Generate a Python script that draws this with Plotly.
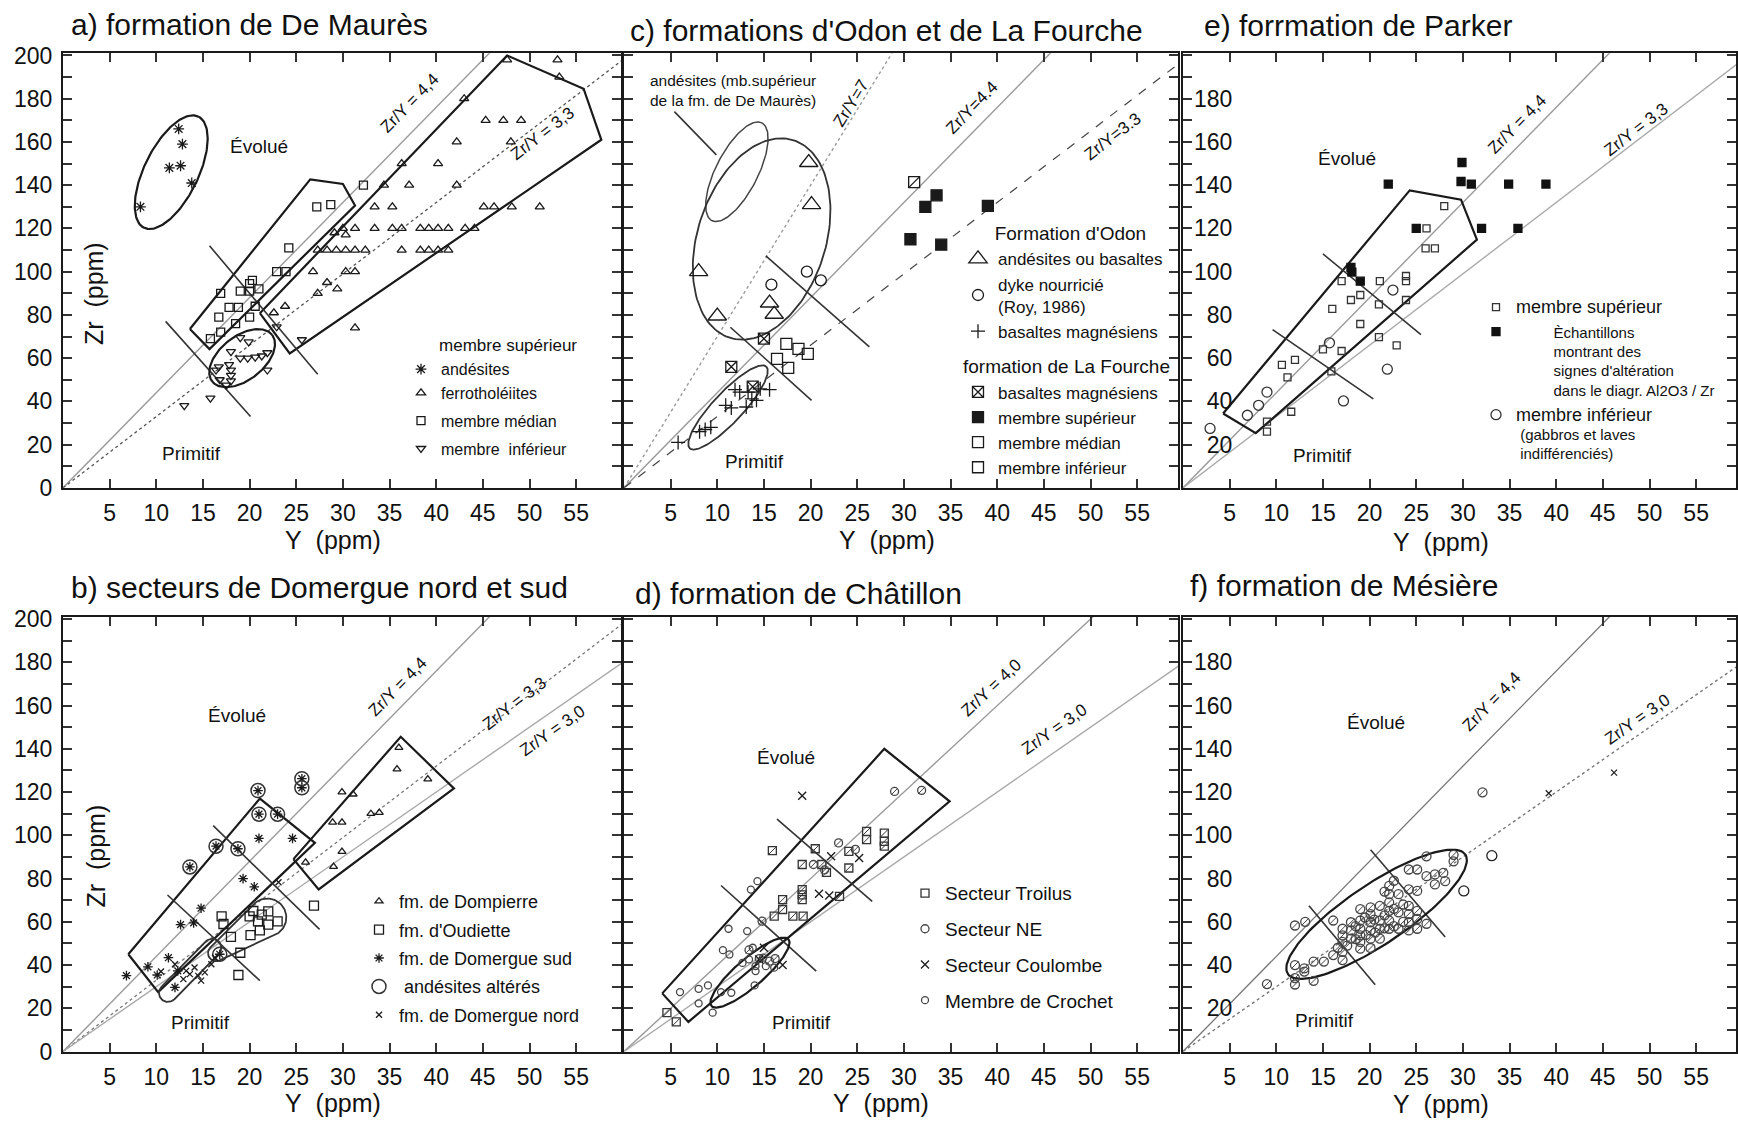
import numpy as np
import plotly.graph_objects as go

# ===================== DATA  (Y ppm , Zr ppm) =====================
# a) formation de De Maurès
A_AND_Y = [8.3, 11.4, 12.4, 12.8, 12.6, 13.8]
A_AND_ZR = [130, 148, 166, 159, 149, 141]
A_FERRO_Y = [47.6, 53.0, 53.2, 43.0, 45.3, 47.2, 49.1, 42.2, 48.0, 40.2, 36.3, 37.1, 42.2, 34.4,
             33.4, 35.3, 45.1, 46.2, 48.1, 51.1,
             30.0, 31.3, 33.4, 35.3, 36.3, 38.3, 39.2, 40.2, 41.3, 43.1, 44.1,
             27.3, 28.3, 29.3, 30.3, 31.3, 32.4, 36.3, 38.3, 39.2, 40.2, 41.3,
             29.1, 30.3, 26.8, 30.3, 31.3, 28.3, 29.4, 27.3, 23.8, 22.6, 31.3]
A_FERRO_ZR = [198, 198, 190, 180, 170, 170, 170, 160, 160, 150, 150, 140, 140, 140,
              130, 130, 130, 130, 130, 130,
              120, 120, 120, 120, 120, 120, 120, 120, 120, 120, 120,
              110, 110, 110, 110, 110, 110, 110, 110, 110, 110, 110,
              118, 117, 100, 100, 100, 95, 92, 90, 84, 81, 74]
A_MED_Y = [15.8, 16.9, 16.7, 17.8, 18.8, 20.6, 16.9, 19.0, 20.0, 20.0, 21.0, 20.3, 22.9, 23.9,
           20.0, 24.2, 27.2, 28.7, 32.2, 18.5]
A_MED_ZR = [69, 72, 79, 83.5, 83.5, 84, 90, 91, 94.5, 91, 92, 96, 100, 100, 79, 111, 130, 131, 140, 76]
A_INF_Y = [13.0, 15.8, 16.4, 16.8, 16.7, 17.8, 18.0, 18.0, 18.0, 17.5, 18.0, 19.0, 19.9, 19.0,
           19.8, 20.6, 21.3, 21.9, 21.9, 22.9, 25.6]
A_INF_ZR = [38, 41.5, 54.5, 50, 56, 57, 54.5, 52, 49.5, 47.5, 63, 69.5, 67.5, 60, 60, 60.5, 61,
            62.5, 54.5, 74.5, 68.5]

# c) formations d'Odon et de La Fourche
C_AND_Y = [19.8, 20.1, 8.0, 10.0, 15.6, 16.1]
C_AND_ZR = [150.5, 131, 100, 79.5, 85.5, 80.3]
C_DYKE_Y = [15.8, 19.6, 21.1]
C_DYKE_ZR = [94, 100, 96]
C_MG_Y = [5.8, 8.1, 8.7, 9.3, 10.9, 11.5, 11.9, 13.1, 13.7, 13.3, 14.6, 15.6, 14.2, 12.4]
C_MG_ZR = [21, 26, 27, 28, 38.2, 37, 45.4, 37.4, 41.2, 44.3, 45.8, 45.4, 40.5, 44.3]
C_LFMG_Y = [15.0, 11.5, 13.8]
C_LFMG_ZR = [69, 56, 46.8]
C_LFSUP_Y = [30.7, 32.3, 33.5, 34.0, 39.0]
C_LFSUP_ZR = [115, 130, 135.3, 112.5, 130.4]
C_LFMED_Y = [31.1]
C_LFMED_ZR = [141.4]
C_LFINF_Y = [17.4, 16.4, 18.7, 19.7, 17.6]
C_LFINF_ZR = [66.6, 59.7, 64.3, 62, 55.5]

# e) formation de Parker
E_SUP_Y = [28, 26.1, 26, 27, 17, 21.1, 23.9, 23.9, 23.9, 18, 19, 16, 21, 19, 21, 22.9, 17, 15,
           10.6, 12, 11.2, 11.6, 9, 9, 15.9]
E_SUP_ZR = [130.3, 120, 110.8, 110.8, 95.6, 95.6, 98, 95.6, 86.9, 86.9, 89.2, 82.8, 84.9, 75.8,
            69.7, 65.9, 63.3, 64.1, 56.9, 59.2, 51.1, 35.2, 30.6, 26, 53.9]
E_ALT_Y = [22, 29.9, 29.8, 30.9, 34.9, 38.9, 32, 25, 18, 18.1, 19, 35.9]
E_ALT_ZR = [140.5, 150.5, 141.7, 140.5, 140.5, 140.5, 120, 120, 102, 99.8, 95.6, 120]
E_INF_Y = [2.9, 6.9, 8.1, 9, 15.7, 22.5, 21.9, 17.2]
E_INF_ZR = [27.5, 33.6, 38.2, 44.3, 67.1, 91.5, 54.9, 40.2]

# b) secteurs de Domergue nord et sud
B_DOMP_Y = [36, 35.8, 39.1, 29.9, 31.1, 28.9, 29.9, 33, 33.9, 29.9, 29, 26]
B_DOMP_ZR = [140.6, 130.6, 126, 120, 119, 106, 106, 110, 110.5, 92.5, 85.5, 87.5]
B_OUD_Y = [26.9, 17, 17.2, 18, 19, 18.8, 20.1, 20.9, 21.3, 22, 22, 23, 21.1, 20, 20.4]
B_OUD_ZR = [67.5, 62.5, 59, 53, 45.7, 35.4, 53.8, 60.2, 63.3, 64.8, 58.7, 60.2, 56, 62.5, 65]
B_SUD_Y = [6.8, 9.1, 10.1, 11.3, 12.6, 14, 14.8, 19.3, 20.5, 21, 24.6, 16.4, 18.75, 21, 23, 25.6,
           25.6, 20.9, 13.6, 12.3, 16.8, 12]
B_SUD_ZR = [35.1, 39.2, 35.4, 43.4, 58.7, 59.5, 66.3, 80, 76.2, 98.6, 98.6, 95, 93.8, 109.8, 109.8,
            126.2, 122, 120.7, 85.4, 37.3, 45, 29.7]
B_ALT_Y = [20.9, 13.6, 16.4, 18.75, 21, 23, 25.6, 25.6, 16.8]
B_ALT_ZR = [120.7, 85.4, 95, 93.8, 109.8, 109.8, 126.2, 122, 45]
B_NORD_Y = [12.9, 13.6, 14.5, 15.2, 14.1, 13.2, 15.9, 16.3, 12, 14.8, 23.1, 10.5]
B_NORD_ZR = [33.5, 35.8, 35, 36.6, 38.9, 37.3, 40.4, 43.4, 40.4, 32.8, 78.3, 37]

# d) formation de Châtillon
D_TROI_Y = [15.9, 19.1, 19.1, 19.1, 17, 17, 16.1, 18.1, 19.2, 21.7, 21.2, 24.1, 24.1, 26, 26,
            27.9, 27.9, 27.9, 20.5, 23.1, 19.1, 4.6, 5.6]
D_TROI_ZR = [92.9, 86.5, 74.9, 70.3, 70.3, 65.7, 62.6, 62.6, 62.6, 82.9, 86.5, 92.6, 84.9, 101.8,
             98, 101, 97.2, 95, 93.8, 71.8, 72.5, 18, 13.7]
D_NE_Y = [29, 31.9, 23, 24.8, 21.5, 20.3, 14.8, 13.4, 14.5, 15.6, 16.2]
D_NE_ZR = [120.3, 120.8, 96.5, 93.5, 84, 86.5, 60.3, 47, 43, 41.8, 43]
D_COUL_Y = [19.1, 22.2, 25.2, 20.9, 22, 14.5, 15, 17]
D_COUL_ZR = [118.3, 90.3, 89.5, 73, 72.2, 42.6, 48, 40]
D_CRO_Y = [11.2, 13.2, 13.6, 14.3, 10.6, 11.3, 6, 8, 9, 8, 9.5, 10.4, 11.5, 14, 12.7, 13.4, 14.1,
           14.9, 16.1, 14.1, 15.2, 13.8]
D_CRO_ZR = [56.8, 55.7, 74.9, 78.8, 46.9, 44.9, 27.5, 29, 30.6, 22.3, 18, 27.5, 27.2, 30.6, 41,
            42.6, 39.5, 43.4, 38.8, 37.2, 39.5, 48]

# f) formation de Mésière
F_Y = [12, 12, 12, 13, 13, 14, 14, 15.1, 16.1, 17.1, 17.1, 17.1, 16.1, 17.1, 17.1, 18, 18, 18,
       19, 19, 19, 19, 19, 19, 20.1, 20.1, 20.1, 20.1, 20.1, 20.1, 21.1, 21.1, 21.1, 21.1,
       22.1, 22.1, 22.1, 22.1, 22.1, 22.1, 23.1, 23.1, 23.1, 24.2, 24.2, 24.2, 24.2, 24.2,
       25.1, 25.1, 25.1, 25.1, 26.1, 24.2, 25.1, 26.1, 26.1, 27, 27, 27.9, 28.1, 29, 29,
       32.1, 9, 12, 13.1, 18.5, 19.5, 20.5, 21.6, 22.6, 23.6, 19.6, 20.6, 21.6, 22.6, 23.6,
       18.5, 16.6, 17.6, 21.6, 22.6]
F_ZR = [40, 34, 31, 38.5, 37, 32.7, 41.6, 41.6, 44.6, 46.1, 42.3, 50.7, 60.6, 53.7, 56.8, 59.8, 56,
        52.2, 65.9, 60.6, 56.8, 53.7, 50.7, 47.6, 66.7, 63.6, 59.8, 56, 52.2, 47.9, 67.4, 60.6,
        56.8, 52.2, 76.6, 72.8, 69, 65.1, 60.6, 56.8, 72.8, 64.4, 56.8, 75, 67.4, 63.6, 59.8, 56,
        74.3, 65.1, 61.3, 56.8, 59.1, 84.2, 84.2, 90.3, 81.1, 81.9, 77.3, 82.6, 78.8, 91, 88,
        119.9, 31.2, 58.3, 60, 58, 62, 61, 63, 58, 60, 54, 55, 57, 66, 68, 52, 48, 49, 74, 79]
F_OPEN_Y = [33.1, 30.1]
F_OPEN_ZR = [90.6, 74.3]
F_X_Y = [39.2, 46.2]
F_X_ZR = [119.5, 129]

# ---- outlines (vertices in Y, Zr units) ----
A_BOX_MED = ([13.6, 26.5, 30.0, 31.3, 15.7, 13.6], [73.5, 142.7, 140.6, 130.6, 64.2, 73.5])
A_BOX_FER = ([21.1, 47.6, 55.8, 57.7, 24.3, 21.1], [80.8, 200, 184.6, 161, 62.2, 80.8])
A_SEGS = [([15.7, 27.3], [112, 52.6]), ([11.0, 20.1], [77, 33])]
A_ELLS = [(11.6, 146, 62, 27, 64), (19.2, 60, 38, 22, 38)]   # cx, cy, a(px), b(px), angle

C_SEGS = [([15.2, 26.3], [107.3, 65.2]), ([11.4, 20.1], [74.3, 40.5]), ([9.9, 5.4], [154, 174])]
C_ELLS = [(12.1, 146.2, 55, 21, 63), (14.75, 115.1, 104, 64, 72), (11.15, 37.2, 56, 15, 47)]

E_BOX = ([4.3, 24.3, 29.8, 31.5, 7.8, 4.3], [34.4, 137.6, 133.3, 114.8, 25.3, 34.4])
E_SEGS = [([15.0, 25.5], [108.2, 70.9]), ([9.6, 20.4], [73.2, 41.2])]

B_BOX1 = ([7.0, 21.1, 27.0, 10.2, 7.0], [45, 117, 96.5, 27.5, 45])
B_BOX2 = ([24.7, 36.2, 41.9, 27.4, 24.7], [89, 145.6, 121.7, 75, 89])
B_SEGS = [([16.1, 27.5], [104.5, 56.5]), ([11.2, 21.1], [72.4, 32.8])]
B_HULLS = [((11.25, 27.1), 9, (16.0, 48.0), 9), ((16.4, 45.5), 8, (21.9, 62.0), 19)]

D_BOX = ([4.1, 27.9, 34.9, 6.9, 4.1], [26.9, 140, 115.7, 13.7, 26.9])
D_SEGS = [([10.4, 20.6], [76.8, 37.2]), ([16.4, 26.6], [107.5, 69.5])]
D_ELLS = [(13.5, 36.5, 51, 14, 41)]

F_SEGS = [([13.5, 20.6], [67.4, 30.9]), ([20.1, 28.1], [93.3, 53])]
F_ELLS = [(20.75, 63.5, 107, 30, 34)]

# ===================== LAYOUT CONSTANTS =====================
W, H = 1738, 1126
SX, SY = 9.33, 2.167           # picture px per ppm (Y) and per ppm (Zr)
YOFF, YSC = 9.5, 0.981         # measured vertical mapping page -> photographed picture


def pg(t):
    """picture y (px) -> page y (px)"""
    return (t - YOFF) / YSC


COLS = [(63, 621), (624, 1178), (1183, 1736)]
ROWS = [(pg(51.9), pg(487.5)), (pg(616.9), pg(1052.5))]
FONT = "Liberation Sans, Arial, Helvetica, sans-serif"
INK = "#1a1a1a"
GRAY = "#9a9a9a"

fig = go.Figure()


def ax_names(i):
    return ("x" if i == 1 else f"x{i}"), ("y" if i == 1 else f"y{i}")


def ellipse(cx, cy, a, b, ang, n=160):
    t = np.linspace(0, 2 * np.pi, n)
    th = np.radians(ang)
    u, v = a * np.cos(t), b * np.sin(t)
    px = u * np.cos(th) - v * np.sin(th)
    py = u * np.sin(th) + v * np.cos(th)
    return cx + px / SX, cy + py / SY


def hull2(c1, r1, c2, r2, n=90):
    t = np.linspace(0, 2 * np.pi, n, endpoint=False)
    pts = []
    for (cx, cy), r in ((c1, r1), (c2, r2)):
        for tt in t:
            pts.append((cx * SX + r * np.cos(tt), cy * SY + r * np.sin(tt)))
    pts = sorted(set(pts))

    def cross(o, a, b):
        return (a[0] - o[0]) * (b[1] - o[1]) - (a[1] - o[1]) * (b[0] - o[0])
    lower, upper = [], []
    for p in pts:
        while len(lower) >= 2 and cross(lower[-2], lower[-1], p) <= 0:
            lower.pop()
        lower.append(p)
    for p in reversed(pts):
        while len(upper) >= 2 and cross(upper[-2], upper[-1], p) <= 0:
            upper.pop()
        upper.append(p)
    h = lower[:-1] + upper[:-1]
    h.append(h[0])
    return [p[0] / SX for p in h], [p[1] / SY for p in h]


def outline(i, x, y, width=2.2, color=INK, dash="solid"):
    xa, ya = ax_names(i)
    fig.add_trace(go.Scatter(x=list(x), y=list(y), mode="lines", xaxis=xa, yaxis=ya,
                             line=dict(color=color, width=width, dash=dash),
                             showlegend=False, hoverinfo="skip"))


def points(i, x, y, name, symbol, size, legend=None, group=None, gtitle=None, gsize=18,
           color=INK, lw=1.3, show=True):
    xa, ya = ax_names(i)
    kw = {}
    if legend:
        kw["legend"] = legend
    if group:
        kw["legendgroup"] = group
    if gtitle:
        kw["legendgrouptitle"] = dict(text=gtitle, font=dict(size=gsize, family=FONT, color="#111"))
    fig.add_trace(go.Scatter(x=x, y=y, mode="markers", name=name, xaxis=xa, yaxis=ya,
                             marker=dict(symbol=symbol, size=size, color=color,
                                         line=dict(color=color, width=lw)),
                             showlegend=show and legend is not None, **kw))


def ratio_lines(i, specs, xmax):
    for k, dash, col, w in specs:
        outline(i, [0, xmax], [0, k * xmax], width=w, color=col, dash=dash)


annotations = []


def label(i, x, y, text, size=19, angle=0, align="center", xanchor="center"):
    xa, ya = ax_names(i)
    annotations.append(dict(x=x, y=y, xref=xa, yref=ya, text=text, showarrow=False,
                            textangle=angle, align=align, xanchor=xanchor, yanchor="middle",
                            font=dict(size=size, family=FONT, color="#111")))


def ratio_label(i, x, y, k, text, size=17):
    ang = np.degrees(np.arctan(k * SY / SX))
    label(i, x, y, text, size=size, angle=-ang)


PANEL_POS = {1: (0, 0), 2: (1, 0), 3: (2, 0), 4: (0, 1), 5: (1, 1), 6: (2, 1)}

# ---------------- panel a (axis 1) ----------------
ratio_lines(1, [(4.4, "solid", GRAY, 1.4), (3.3, "dot", "#555", 1.3)], 70)
outline(1, *A_BOX_MED)
outline(1, *A_BOX_FER)
for sx_, sy_ in A_SEGS:
    outline(1, sx_, sy_, width=1.6, color="#333")
for e in A_ELLS:
    outline(1, *ellipse(*e))
pad = "\u00a0" * 7
points(1, A_AND_Y, A_AND_ZR, "andésites", "asterisk-open", 9, "legend", "a1",
       pad + "membre supérieur", gsize=17)
points(1, A_FERRO_Y, A_FERRO_ZR, "ferrotholéiites", "triangle-up-open", 8, "legend", "a1")
points(1, A_MED_Y, A_MED_ZR, "membre médian", "square-open", 8, "legend", "a2")
points(1, A_INF_Y, A_INF_ZR, "membre\u00a0 inférieur", "triangle-down-open", 8, "legend", "a3")
label(1, 21, 158, "Évolué")
label(1, 13.8, 16, "Primitif")
label(1, 3.3, 90, "Zr\u00a0 (ppm)", size=25, angle=-90)
ratio_label(1, 37.1, 178, 4.4, "Zr/Y = 4,4")
ratio_label(1, 51.4, 164, 3.3, "Zr/Y = 3,3")

# ---------------- panel c (axis 2) ----------------
ratio_lines(2, [(7.0, "dot", GRAY, 1.4), (4.4, "solid", GRAY, 1.4), (3.3, "dash", "#444", 1.2)], 70)
for sx_, sy_ in C_SEGS:
    outline(2, sx_, sy_, width=1.6, color="#333")
outline(2, *ellipse(*C_ELLS[0]), width=1.5, color="#444")
outline(2, *ellipse(*C_ELLS[1]), width=1.8, color="#333")
outline(2, *ellipse(*C_ELLS[2]), width=1.8, color="#333")
pad2 = "\u00a0" * 6
points(2, C_AND_Y, C_AND_ZR, "andésites ou basaltes", "triangle-up-open", 16, "legend2", "c1",
       pad2 + "Formation d'Odon", gsize=19)
points(2, C_DYKE_Y, C_DYKE_ZR, "dyke nourricié<br>(Roy, 1986)", "circle-open", 11, "legend2", "c1")
points(2, C_MG_Y, C_MG_ZR, "basaltes magnésiens", "cross-thin-open", 10, "legend2", "c1")
points(2, C_LFMG_Y, C_LFMG_ZR, "basaltes magnésiens ", "square-x-open", 11, "legend2", "c2",
       "formation de La Fourche", gsize=19)
points(2, C_LFSUP_Y, C_LFSUP_ZR, "membre supérieur", "square", 11, "legend2", "c2")
points(2, C_LFMED_Y, C_LFMED_ZR, "membre médian", "square-open", 11, "legend2", "c2")
points(2, C_LFMED_Y, C_LFMED_ZR, "membre médian", "line-ne-open", 11, show=False)
points(2, C_LFINF_Y, C_LFINF_ZR, "membre inférieur", "square-open", 11, "legend2", "c2")
label(2, 2.6, 184, "andésites (mb.supérieur<br>de la fm. de De Maurès)", size=15.5,
      align="left", xanchor="left")
label(2, 14, 12.4, "Primitif")
ratio_label(2, 24.3, 178, 7.0, "Zr/Y=7")
ratio_label(2, 37.3, 176, 4.4, "Zr/Y=4.4")
ratio_label(2, 52.4, 162.5, 3.3, "Zr/Y=3.3")

# ---------------- panel e (axis 3) ----------------
ratio_lines(3, [(4.4, "solid", GRAY, 1.4), (3.3, "solid", "#aaaaaa", 1.4)], 70)
outline(3, *E_BOX)
for sx_, sy_ in E_SEGS:
    outline(3, sx_, sy_, width=1.6, color="#333")
big = "<span style='font-size:18px'>"
ind = "\u00a0" * 9
points(3, E_SUP_Y, E_SUP_ZR, big + "membre supérieur</span>", "square-open", 7, "legend3", "e1",
       color="#333")
points(3, E_ALT_Y, E_ALT_ZR,
       ind + "Èchantillons<br>" + ind + "montrant des<br>" + ind + "signes d'altération<br>" +
       ind + "dans le diagr. Al2O3 / Zr",
       "square", 8, "legend3", "e2", color="#111")
points(3, E_INF_Y, E_INF_ZR,
       big + "membre inférieur</span><br>" + "\u00a0(gabbros et laves<br>" +
       "\u00a0indifférenciés)",
       "circle-open", 10, "legend3", "e3", color="#333")
label(3, 17.6, 152.5, "Évolué")
label(3, 14.9, 15, "Primitif")
ratio_label(3, 35.8, 168, 4.4, "Zr/Y = 4,4")
ratio_label(3, 48.6, 165.6, 3.3, "Zr/Y = 3,3")

# ---------------- panel b (axis 4) ----------------
ratio_lines(4, [(4.4, "solid", GRAY, 1.4), (3.3, "dot", "#777", 1.3), (3.0, "solid", "#aaaaaa", 1.4)], 70)
outline(4, *B_BOX1)
outline(4, *B_BOX2)
for sx_, sy_ in B_SEGS:
    outline(4, sx_, sy_, width=1.6, color="#333")
for hh in B_HULLS:
    outline(4, *hull2(*hh), width=1.8, color="#333")
points(4, B_DOMP_Y, B_DOMP_ZR, "fm. de Dompierre", "triangle-up-open", 7, "legend4", "b1")
points(4, B_OUD_Y, B_OUD_ZR, "fm. d'Oudiette", "square-open", 9, "legend4", "b2")
points(4, B_SUD_Y, B_SUD_ZR, "fm. de Domergue sud", "asterisk-open", 8, "legend4", "b3")
points(4, B_ALT_Y, B_ALT_ZR, "\u00a0andésites altérés", "circle-open", 14, "legend4", "b4",
       color="#333", lw=1.5)
points(4, B_NORD_Y, B_NORD_ZR, "fm. de Domergue nord", "x-thin-open", 6, "legend4", "b5")
label(4, 18.6, 155.5, "Évolué")
label(4, 14.7, 13.3, "Primitif")
label(4, 3.5, 90.5, "Zr\u00a0 (ppm)", size=25, angle=-90)
ratio_label(4, 35.9, 169, 4.4, "Zr/Y = 4,4")
ratio_label(4, 48.4, 161, 3.3, "Zr/Y = 3,3")
ratio_label(4, 52.5, 148.5, 3.0, "Zr/Y = 3,0")

# ---------------- panel d (axis 5) ----------------
ratio_lines(5, [(4.0, "solid", GRAY, 1.4), (3.0, "solid", "#aaaaaa", 1.4)], 70)
outline(5, *D_BOX)
for sx_, sy_ in D_SEGS:
    outline(5, sx_, sy_, width=1.6, color="#333")
outline(5, *ellipse(*D_ELLS[0]))
points(5, D_TROI_Y, D_TROI_ZR, "Secteur Troilus", "square-open", 8, "legend5", "d1", color="#333")
points(5, D_TROI_Y, D_TROI_ZR, "Secteur Troilus", "line-ne-open", 7, color="#333", lw=1, show=False)
points(5, D_NE_Y, D_NE_ZR, "Secteur NE", "circle-open", 8, "legend5", "d2", color="#444")
points(5, D_NE_Y, D_NE_ZR, "Secteur NE", "line-ne-open", 7, color="#444", lw=1, show=False)
points(5, D_COUL_Y, D_COUL_ZR, "Secteur Coulombe", "x-thin-open", 8, "legend5", "d3")
points(5, D_CRO_Y, D_CRO_ZR, "Membre de Crochet", "circle-open", 7, "legend5", "d4", color="#444")
label(5, 17.4, 136, "Évolué")
label(5, 19, 13.4, "Primitif")
ratio_label(5, 39.4, 168.3, 4.0, "Zr/Y = 4,0")
ratio_label(5, 46.1, 149, 3.0, "Zr/Y = 3,0")

# ---------------- panel f (axis 6) ----------------
ratio_lines(6, [(4.4, "solid", "#777", 1.3), (3.0, "dot", "#777", 1.4)], 70)
for sx_, sy_ in F_SEGS:
    outline(6, sx_, sy_, width=1.6, color="#333")
outline(6, *ellipse(*F_ELLS[0]))
points(6, F_Y, F_ZR, "Mésière", "circle-open", 9, color="#444")
points(6, F_Y, F_ZR, "Mésière", "line-ne-open", 7, color="#444", lw=1, show=False)
points(6, F_OPEN_Y, F_OPEN_ZR, "Mésière (cercles)", "circle-open", 10, color="#222")
points(6, F_X_Y, F_X_ZR, "Mésière (croix)", "x-thin-open", 6, color="#222")
label(6, 20.7, 152, "Évolué")
label(6, 15.2, 14.5, "Primitif")
ratio_label(6, 33.1, 162, 4.4, "Zr/Y = 4,4")
ratio_label(6, 48.7, 153.6, 3.0, "Zr/Y = 3,0")

# ---------------- axes ----------------
XT = list(range(5, 60, 5))
YT = list(range(0, 201, 10))
layout = dict(width=W, height=H, margin=dict(l=0, r=0, t=0, b=0),
              paper_bgcolor="white", plot_bgcolor="white",
              font=dict(family=FONT, color="#111"), showlegend=True)
for i, (c, r) in PANEL_POS.items():
    x0, x1 = COLS[c]
    t0, t1 = ROWS[r]
    sfx = "" if i == 1 else str(i)
    if c == 0:
        ytext = [str(v) if v % 20 == 0 else "" for v in YT]
        ystand = 4
    elif c == 2:
        ytext = [str(v) if (v % 20 == 0 and 0 < v < 200) else "" for v in YT]
        ystand = -56
    else:
        ytext = ["" for v in YT]
        ystand = 4
    common = dict(showline=True, mirror="ticks", linecolor=INK, linewidth=2, ticks="inside",
                  ticklen=9, tickwidth=1.5, tickcolor="#333", showgrid=False, zeroline=False,
                  tickfont=dict(size=23, family=FONT, color="#111"), fixedrange=True)
    layout["xaxis" + sfx] = dict(domain=[x0 / W, x1 / W], range=[0, (x1 - x0) / SX],
                                 anchor="y" + sfx, tickvals=XT, ticktext=[str(v) for v in XT],
                                 ticklabelstandoff=4, **common)
    layout["yaxis" + sfx] = dict(domain=[1 - t1 / H, 1 - t0 / H], range=[0, 201],
                                 anchor="x" + sfx, tickvals=YT, ticktext=ytext,
                                 ticklabelstandoff=ystand, **common)

# axis titles and panel titles (positions given in picture px)
for (txt, px, py) in [("Y\u00a0\u00a0(ppm)", 333, 540), ("Y\u00a0\u00a0(ppm)", 887, 540),
                      ("Y\u00a0\u00a0(ppm)", 1441, 542), ("Y\u00a0\u00a0(ppm)", 333, 1104),
                      ("Y\u00a0\u00a0(ppm)", 881, 1104), ("Y\u00a0\u00a0(ppm)", 1441, 1105)]:
    annotations.append(dict(x=px / W, y=1 - pg(py) / H, xref="paper", yref="paper", text=txt,
                            showarrow=False, xanchor="center", yanchor="middle",
                            font=dict(size=25, family=FONT, color="#111")))
for (txt, px, py) in [("a) formation de De Maurès", 69, 23),
                      ("c) formations d'Odon et de La Fourche", 628, 29),
                      ("e) forrmation de Parker", 1202, 24),
                      ("b) secteurs de Domergue nord et sud", 69, 587),
                      ("d) formation de Châtillon", 633, 593),
                      ("f) formation de Mésière", 1188, 585)]:
    annotations.append(dict(x=px / W, y=1 - pg(py) / H, xref="paper", yref="paper", text=txt,
                            showarrow=False, xanchor="left", yanchor="middle",
                            font=dict(size=30, family=FONT, color="#111")))
layout["annotations"] = annotations

LEG = dict(bgcolor="rgba(0,0,0,0)", xanchor="left", yanchor="top", traceorder="grouped",
           itemclick=False, itemdoubleclick=False)
layout["legend"] = dict(x=401 / W, y=1 - 323 / H, font=dict(size=16, family=FONT, color="#111"),
                        tracegroupgap=4, **LEG)
layout["legend2"] = dict(x=958 / W, y=1 - 207 / H, font=dict(size=17, family=FONT, color="#111"),
                         tracegroupgap=8, **LEG)
layout["legend3"] = dict(x=1476 / W, y=1 - 286 / H, font=dict(size=15, family=FONT, color="#111"),
                         tracegroupgap=2, valign="top", **LEG)
layout["legend4"] = dict(x=359 / W, y=1 - 891 / H, font=dict(size=18, family=FONT, color="#111"),
                         tracegroupgap=2, **LEG)
layout["legend5"] = dict(x=905 / W, y=1 - 882 / H, font=dict(size=19, family=FONT, color="#111"),
                         tracegroupgap=8, **LEG)

fig.update_layout(**layout)
fig.write_html("out.html", config={"displayModeBar": False},
               post_script="document.body.style.margin='0px';document.body.style.overflow='hidden';")
